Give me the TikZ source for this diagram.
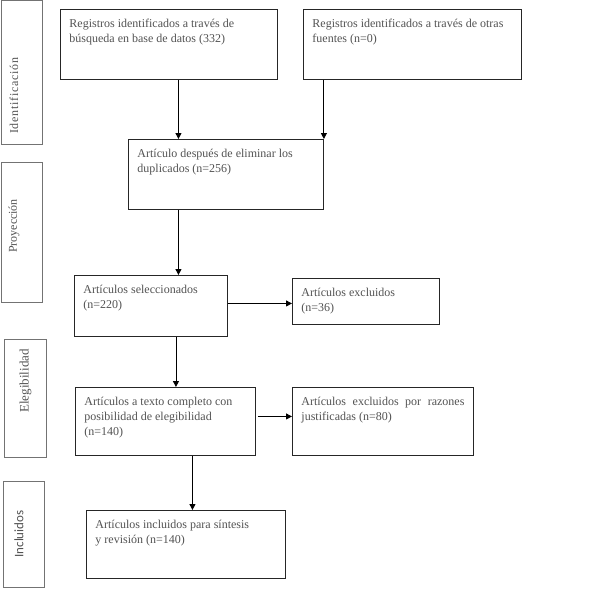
\documentclass[tikz,border=0pt]{standalone}
\usepackage{fontspec}
\setmainfont{Liberation Serif}
\newfontfamily\calibrifont{Carlito}
\usetikzlibrary{arrows.meta}
\definecolor{txt}{gray}{0.32}
\definecolor{tabline}{gray}{0.45}
\tikzset{
  box/.style={draw=black!85, line width=0.9pt, anchor=north west, inner xsep=9pt, inner ysep=7.5pt, text=txt, font=\fontsize{12}{15}\selectfont},
  tabbox/.style={draw=tabline, line width=1pt, anchor=north west, inner sep=0pt},
  tabtext/.style={rotate=90, text=txt, inner sep=0pt},
  arr/.style={-{Triangle[length=6pt,width=6pt]}, line width=0.9pt, draw=black}
}
\newcommand\flowbox[6]{\node[box] (#1) at (#2,#3) {\parbox[t][\dimexpr #5pt-#3pt-15pt\relax][t]{\dimexpr #4pt-#2pt-18pt\relax}{\raggedright\strut #6}};}
\begin{document}
\begin{tikzpicture}[x=1pt,y=-1pt]
\useasboundingbox (0,0) rectangle (607,599);
% side tabs
\node[tabbox, minimum width=41pt, minimum height=144pt] (t1) at (0.5,0) {};
\node[tabbox, minimum width=41pt, minimum height=140pt] (t2) at (0.5,162) {};
\node[tabbox, minimum width=42pt, minimum height=118pt] (t3) at (4,339) {};
\node[tabbox, minimum width=41pt, minimum height=106pt] (t4) at (3,481) {};
\node[tabtext, font=\fontsize{12}{14}\selectfont\addfontfeatures{LetterSpace=6}] (l1) at (14,96) {Identificación};
\node[tabtext, font=\fontsize{12}{14}\selectfont] (l2) at (14,226) {Proyección};
\node[tabtext, font=\fontsize{13}{15}\selectfont] (l3) at (25.5,381) {Elegibilidad};
\node[tabtext, font=\calibrifont\fontsize{13}{15}\selectfont] (l4) at (19,534) {Incluidos};
% boxes
\flowbox{b1}{60}{9}{277}{79}{Registros identificados a través de\\búsqueda en base de datos (332)}
\flowbox{b2}{303}{9}{521}{79}{Registros identificados a través de otras\\fuentes (n=0)}
\flowbox{b3}{128}{139}{323}{209}{Artículo después de eliminar los\\duplicados (n=256)}
\flowbox{b4}{74}{275}{227}{336}{Artículos seleccionados\\(n=220)}
\flowbox{b5}{292}{278}{439}{324}{Artículos excluidos\\(n=36)}
\flowbox{b6}{75}{387}{255}{455}{Artículos a texto completo con\\posibilidad de elegibilidad\\(n=140)}
\flowbox{b7}{292}{387}{473}{455}{Artículos\hfill excluidos\hfill por\hfill razones\\justificadas (n=80)}
\flowbox{b8}{86}{510}{285}{578}{Artículos incluidos para síntesis\\y revisión (n=140)}
% connectors
\path ([xshift=9.5pt]b1.south) coordinate (p1);
\draw[arr] (p1) -- (p1 |- b3.north);
\draw[arr] (b3.north east |- b2.south) -- (b3.north east);
\draw[arr] (p1 |- b3.south) -- (p1 |- b4.north);
\path ([yshift=2.5pt]b4.east) coordinate (p4);
\draw[arr] (p4) -- (p4 -| b5.west);
\path ([xshift=25pt]b4.south) coordinate (p5);
\draw[arr] (p5) -- (p5 |- b6.north);
\path ([yshift=5pt,xshift=2pt]b6.east) coordinate (p6);
\draw[arr] (p6) -- (p6 -| b7.west);
\path ([xshift=27pt]b6.south) coordinate (p7);
\draw[arr] (p7) -- (p7 |- b8.north);
\end{tikzpicture}
\end{document}
